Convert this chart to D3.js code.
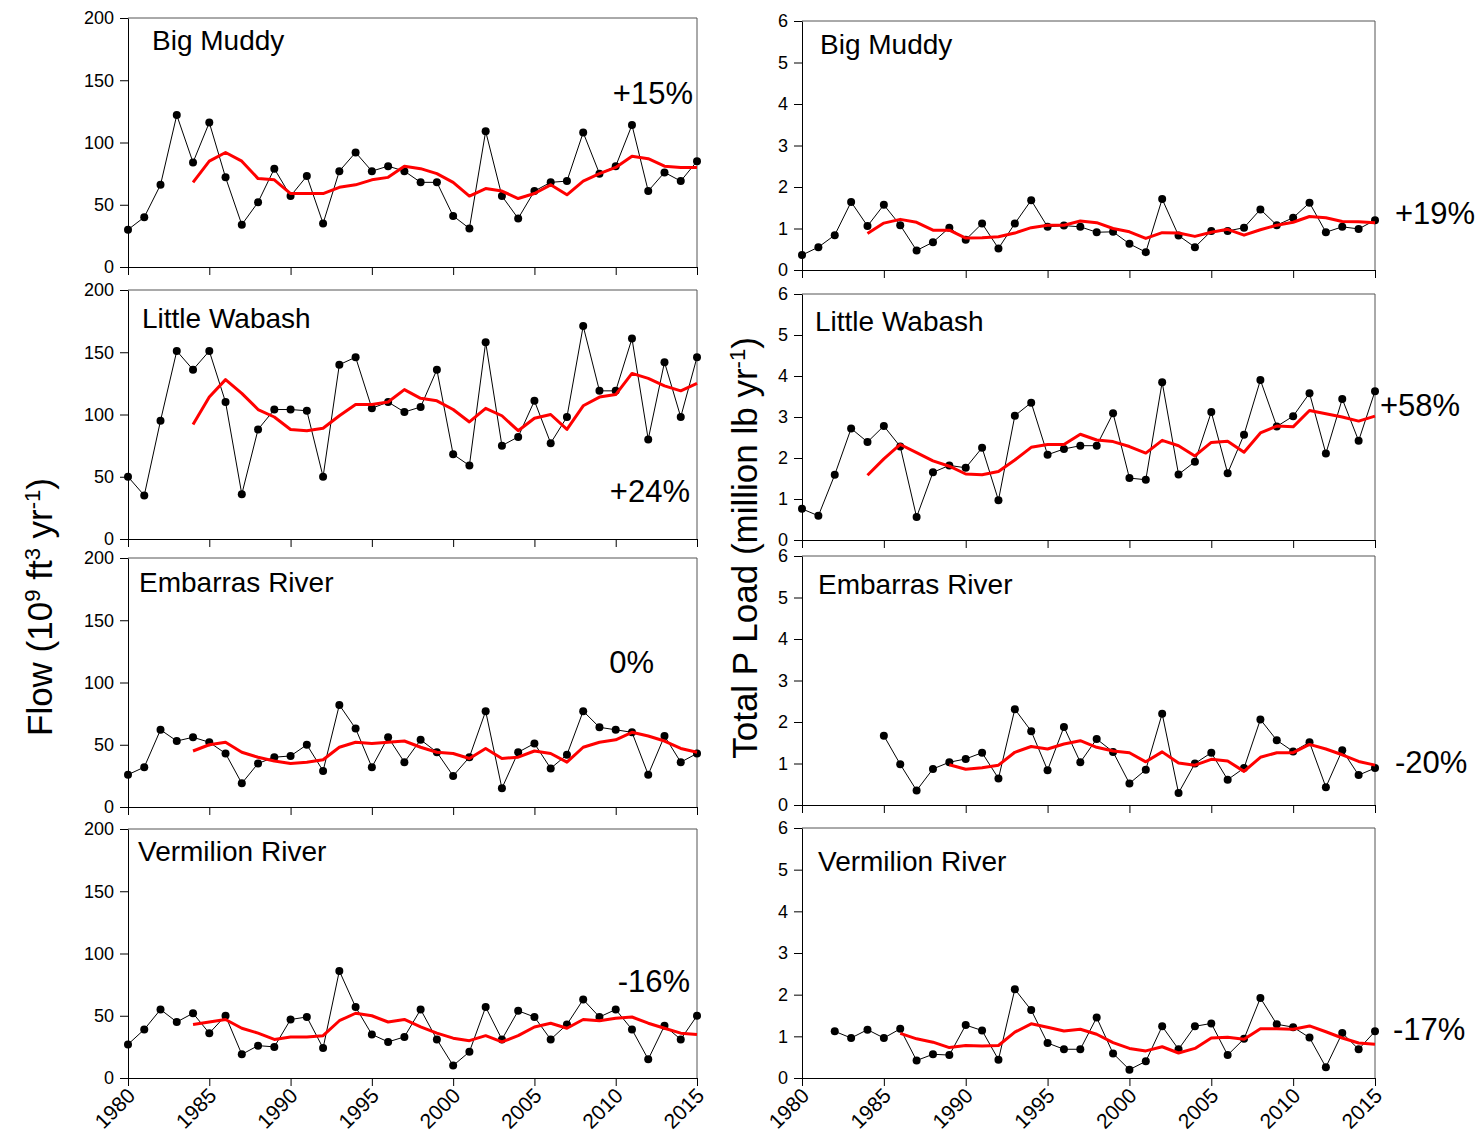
<!DOCTYPE html>
<html>
<head>
<meta charset="utf-8">
<script src="https://cdn.jsdelivr.net/npm/d3@7"></script>
<style>
    body { margin: 0; background: #fff; }
    svg { font-family: "Liberation Sans", Arial, sans-serif; }
</style>
</head>
<body>
<div id="chart"></div>
<script>
// Years 1980 - 2015
var years = [1980, 1981, 1982, 1983, 1984, 1985, 1986, 1987, 1988, 1989,
    1990, 1991, 1992, 1993, 1994, 1995, 1996, 1997, 1998, 1999,
    2000, 2001, 2002, 2003, 2004, 2005, 2006, 2007, 2008, 2009,
    2010, 2011, 2012, 2013, 2014, 2015];
var yearTicks = [1980, 1985, 1990, 1995, 2000, 2005, 2010, 2015];
var flowTicks = [0, 50, 100, 150, 200];
var loadTicks = [0, 1, 2, 3, 4, 5, 6];

var rivers = ["Big Muddy", "Little Wabash", "Embarras River", "Vermilion River"];
var flowChange = ["+15%", "+24%", "0%", "-16%"];
var loadChange = ["+19%", "+58%", "-20%", "-17%"];

var N = null;

// Flow (10^9 ft3/yr), annual values
var flowBigMuddy = [30, 40, 66, 122, 84, 116, 72, 34, 52, 79, 57, 73, 35, 77, 92, 77, 81, 77, 68, 68,
    41, 31, 109, 57, 39, 61, 68, 69, 108, 75, 81, 114, 61, 76, 69, 85];
var flowLittleWabash = [50, 35, 95, 151, 136, 151, 110, 36, 88, 104, 104, 103, 50, 140, 146, 105, 110, 102, 106, 136,
    68, 59, 158, 75, 82, 111, 77, 98, 171, 119, 119, 161, 80, 142, 98, 146];
var flowEmbarras = [26, 32, 62, 53, 56, 52, 43, 19, 35, 40, 41, 50, 29, 82, 63, 32, 56, 36, 54, 44,
    25, 40, 77, 15, 44, 51, 31, 42, 77, 64, 62, 60, 26, 57, 36, 43];
var flowVermilion = [27, 39, 55, 45, 52, 36, 50, 19, 26, 25, 47, 49, 24, 86, 57, 35, 29, 33, 55, 31,
    10, 21, 57, 31, 54, 49, 31, 43, 63, 49, 55, 39, 15, 42, 31, 50];

// Flow, 5-year moving average line
var flowBigMuddyAvg = [N, N, N, N, 68, 85, 92, 85, 71, 70, 59, 59, 59, 64, 66, 70, 72, 81, 79, 75,
    68, 57, 63, 61, 55, 59, 66, 58, 69, 75, 80, 89, 87, 81, 80, 80];
var flowLittleWabashAvg = [N, N, N, N, 92, 114, 128, 117, 104, 98, 88, 87, 89, 99, 108, 108, 110, 120, 113, 111,
    104, 94, 105, 99, 87, 97, 100, 88, 107, 114, 116, 133, 129, 123, 119, 125];
var flowEmbarrasAvg = [N, N, N, N, 45, 50, 52, 44, 40, 37, 35, 36, 38, 48, 52, 51, 52, 53, 48, 44,
    43, 39, 47, 39, 40, 45, 43, 36, 48, 52, 54, 60, 57, 53, 47, 44];
var flowVermilionAvg = [N, N, N, N, 43, 45, 47, 40, 36, 31, 33, 33, 34, 46, 52, 50, 45, 47, 41, 36,
    32, 30, 34, 29, 34, 41, 44, 40, 47, 46, 48, 49, 44, 40, 36, 35];

// Total P load (million lb/yr), annual values
var loadBigMuddy = [0.36, 0.55, 0.84, 1.64, 1.06, 1.57, 1.08, 0.47, 0.67, 1.02, 0.73, 1.12, 0.52, 1.12, 1.68, 1.04, 1.07, 1.04, 0.91, 0.92,
    0.63, 0.43, 1.71, 0.83, 0.55, 0.94, 0.94, 1.02, 1.46, 1.08, 1.26, 1.62, 0.91, 1.04, 0.99, 1.2];
var loadLittleWabash = [0.76, 0.59, 1.59, 2.72, 2.39, 2.78, 2.28, 0.56, 1.65, 1.82, 1.76, 2.25, 0.97, 3.03, 3.35, 2.08, 2.22, 2.3, 2.3, 3.09,
    1.51, 1.47, 3.85, 1.6, 1.91, 3.12, 1.63, 2.57, 3.9, 2.77, 3.02, 3.58, 2.11, 3.44, 2.42, 3.63];
var loadEmbarras = [N, N, N, N, N, 1.67, 0.98, 0.35, 0.87, 1.03, 1.11, 1.26, 0.64, 2.31, 1.78, 0.84, 1.88, 1.03, 1.59, 1.28,
    0.52, 0.85, 2.2, 0.29, 1.0, 1.26, 0.61, 0.89, 2.06, 1.56, 1.29, 1.51, 0.43, 1.32, 0.72, 0.89];
var loadVermilion = [N, N, 1.12, 0.96, 1.16, 0.96, 1.18, 0.42, 0.57, 0.55, 1.27, 1.14, 0.44, 2.13, 1.63, 0.84, 0.69, 0.69, 1.45, 0.59,
    0.2, 0.4, 1.24, 0.69, 1.24, 1.31, 0.55, 0.94, 1.92, 1.29, 1.22, 0.97, 0.26, 1.08, 0.69, 1.12];

// Total P load, 5-year moving average line
var loadBigMuddyAvg = [N, N, N, N, 0.88, 1.13, 1.22, 1.15, 0.96, 0.96, 0.77, 0.78, 0.8, 0.89, 1.02, 1.08, 1.08, 1.18, 1.14, 1.0,
    0.92, 0.76, 0.9, 0.89, 0.81, 0.91, 0.98, 0.84, 0.97, 1.08, 1.15, 1.29, 1.26, 1.17, 1.16, 1.14];
var loadLittleWabashAvg = [N, N, N, N, 1.58, 1.98, 2.33, 2.13, 1.93, 1.8, 1.61, 1.59, 1.67, 1.95, 2.26, 2.33, 2.33, 2.58, 2.44, 2.4,
    2.28, 2.12, 2.43, 2.3, 2.05, 2.38, 2.41, 2.14, 2.61, 2.78, 2.76, 3.16, 3.08, 3.0, 2.9, 3.02];
var loadEmbarrasAvg = [N, N, N, N, N, N, N, N, N, 0.97, 0.86, 0.9, 0.96, 1.27, 1.41, 1.35, 1.47, 1.55, 1.39, 1.3,
    1.26, 1.04, 1.28, 1.01, 0.96, 1.1, 1.06, 0.81, 1.15, 1.26, 1.26, 1.46, 1.35, 1.21, 1.05, 0.96];
var loadVermilionAvg = [N, N, N, N, N, N, 1.07, 0.94, 0.86, 0.73, 0.78, 0.77, 0.78, 1.1, 1.3, 1.22, 1.13, 1.17, 1.05, 0.85,
    0.71, 0.65, 0.75, 0.6, 0.71, 0.96, 0.98, 0.93, 1.18, 1.18, 1.17, 1.25, 1.11, 0.96, 0.84, 0.81];

var flowObs = [flowBigMuddy, flowLittleWabash, flowEmbarras, flowVermilion];
var flowAvg = [flowBigMuddyAvg, flowLittleWabashAvg, flowEmbarrasAvg, flowVermilionAvg];
var loadObs = [loadBigMuddy, loadLittleWabash, loadEmbarras, loadVermilion];
var loadAvg = [loadBigMuddyAvg, loadLittleWabashAvg, loadEmbarrasAvg, loadVermilionAvg];

function init() {
    var w = 1480;
    var h = 1138;

    var svg = d3.select("#chart")
        .append("svg")
        .attr("width", w)
        .attr("height", h);

    // panel frames (pixel layout)
    var leftCol = { x0: 128, x1: 697, tops: [18, 290, 558, 829], bottoms: [267, 539, 807, 1078] };
    var rightCol = { x0: 802, x1: 1375, tops: [21, 294, 556, 828], bottoms: [270, 540, 805, 1078] };

    var titleLeft = [[152, 50], [142, 328], [139, 592], [138, 861]];
    var titleRight = [[820, 54], [815, 331], [818, 594], [818, 871]];
    var pctLeft = [[693, 104, "end"], [690, 502, "end"], [654, 673, "end"], [690, 992, "end"]];
    var pctRight = [[1395, 224, "start"], [1380, 416, "start"], [1395, 773, "start"], [1393, 1040, "start"]];

    for (var i = 0; i < 4; i++) {
        drawPanel(leftCol, i, [0, 200], flowTicks, flowObs[i], flowAvg[i], rivers[i], titleLeft[i], flowChange[i], pctLeft[i]);
        drawPanel(rightCol, i, [0, 6], loadTicks, loadObs[i], loadAvg[i], rivers[i], titleRight[i], loadChange[i], pctRight[i]);
    }

    function drawPanel(col, row, domain, ticks, obs, avg, name, titlePos, pct, pctPos) {
        var top = col.tops[row];
        var bottom = col.bottoms[row];

        var xScale = d3.scaleLinear()
            .domain([1980, 2015])
            .range([col.x0, col.x1]);

        var yScale = d3.scaleLinear()
            .domain(domain)
            .range([bottom, top]);

        var g = svg.append("g");

        // frame top and right
        g.append("path")
            .attr("d", `M${col.x0},${top}H${col.x1}V${bottom}`)
            .attr("fill", "none")
            .attr("stroke", "#555")
            .attr("stroke-width", 1);

        var xAxis = d3.axisBottom(xScale)
            .tickValues(yearTicks)
            .tickSize(8)
            .tickSizeOuter(0)
            .tickFormat(row === 3 ? d3.format("d") : "");

        var yAxis = d3.axisLeft(yScale)
            .tickValues(ticks)
            .tickSize(8)
            .tickSizeOuter(0)
            .tickPadding(6)
            .tickFormat(d3.format("d"));

        var gx = g.append("g")
            .attr("transform", `translate(0, ${bottom})`)
            .call(xAxis);

        var gy = g.append("g")
            .attr("transform", `translate(${col.x0}, 0)`)
            .call(yAxis);

        [gx, gy].forEach(a => {
            a.select(".domain").attr("stroke", "#000");
            a.selectAll(".tick line").attr("stroke", "#000");
            a.selectAll("text")
                .attr("fill", "#000")
                .style("font-family", "'Liberation Sans', Arial, sans-serif")
                .style("font-size", "18px");
        });

        if (row === 3) {
            gx.selectAll("text")
                .attr("text-anchor", "end")
                .attr("dy", null)
                .attr("y", 0)
                .attr("transform", "translate(8, 19) rotate(-45)")
                .style("font-size", "21px");
        }

        var pts = years.map((yr, k) => ({ year: yr, v: obs[k], a: avg[k] }));

        var obsLine = d3.line()
            .defined(d => d.v !== null)
            .x(d => xScale(d.year))
            .y(d => yScale(d.v));

        var avgLine = d3.line()
            .defined(d => d.a !== null)
            .x(d => xScale(d.year))
            .y(d => yScale(d.a));

        g.append("path")
            .datum(pts)
            .attr("d", obsLine)
            .attr("fill", "none")
            .attr("stroke", "#000")
            .attr("stroke-width", 1);

        g.selectAll("circle")
            .data(pts.filter(d => d.v !== null))
            .enter()
            .append("circle")
            .attr("cx", d => xScale(d.year))
            .attr("cy", d => yScale(d.v))
            .attr("r", 4)
            .attr("fill", "#000");

        g.append("path")
            .datum(pts)
            .attr("d", avgLine)
            .attr("fill", "none")
            .attr("stroke", "#ff0000")
            .attr("stroke-width", 3)
            .attr("stroke-linejoin", "round");

        // river name
        g.append("text")
            .attr("x", titlePos[0])
            .attr("y", titlePos[1])
            .style("font-size", "28px")
            .text(name);

        // percent change
        g.append("text")
            .attr("x", pctPos[0])
            .attr("y", pctPos[1])
            .attr("text-anchor", pctPos[2])
            .style("font-size", "31px")
            .text(pct);
    }

    // Y axis titles
    var flowTitle = svg.append("text")
        .attr("transform", "translate(52, 607) rotate(-90)")
        .attr("text-anchor", "middle")
        .style("font-size", "35px");
    flowTitle.append("tspan").text("Flow (10");
    flowTitle.append("tspan").attr("baseline-shift", "super").style("font-size", "22px").text("9");
    flowTitle.append("tspan").text(" ft");
    flowTitle.append("tspan").attr("baseline-shift", "super").style("font-size", "22px").text("3");
    flowTitle.append("tspan").text(" yr");
    flowTitle.append("tspan").attr("baseline-shift", "super").style("font-size", "22px").text("-1");
    flowTitle.append("tspan").text(")");

    var loadTitle = svg.append("text")
        .attr("transform", "translate(757, 548) rotate(-90)")
        .attr("text-anchor", "middle")
        .style("font-size", "35px");
    loadTitle.append("tspan").text("Total P Load (million lb yr");
    loadTitle.append("tspan").attr("baseline-shift", "super").style("font-size", "22px").text("-1");
    loadTitle.append("tspan").text(")");
}

window.onload = init;
</script>
</body>
</html>
